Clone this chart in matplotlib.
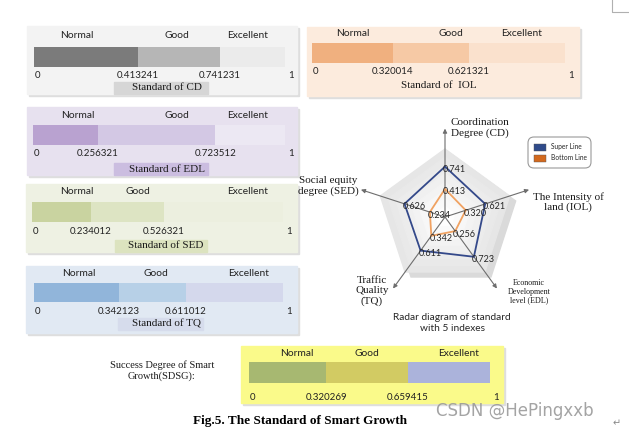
import numpy as np
import matplotlib
matplotlib.use('Agg')
import matplotlib.pyplot as plt
from matplotlib.patches import Rectangle, Polygon, FancyBboxPatch

SANS = ['Lato', 'DejaVu Sans']
SERIF = ['Liberation Serif', 'DejaVu Serif']

# ---- data ------------------------------------------------------------------
grades = ['Normal', 'Good', 'Excellent']
cd_cuts = [0.413241, 0.741231]
iol_cuts = [0.320014, 0.621321]
edl_cuts = [0.256321, 0.723512]
sed_cuts = [0.234012, 0.526321]
tq_cuts = [0.342123, 0.611012]
sdsg_cuts = [0.320269, 0.659415]

radar_axes = ['Coordination\nDegree (CD)', 'The Intensity of\nland (IOL)',
              'Economic\nDevelopment\nlevel (EDL)', 'Traffic\nQuality\n(TQ)',
              'Social equity\ndegree (SED)']
super_line = [0.741, 0.621, 0.723, 0.611, 0.626]
bottom_line = [0.413, 0.320, 0.256, 0.342, 0.234]

# ---- layout (pixel coordinates) -------------------------------------------
panels = [
    dict(cuts=cd_cuts, title='Standard of CD', box=(27, 26, 297, 94),
         bar=(34, 285, 47, 67), cat_y=36, tick_y=75, title_y=88, one_dy=0,
         cat_pos=[0.17, 0.57, 0.85], tbox=(114, 82, 208, 94), title_dx=8,
         bg='#f3f3f3', segs=['#7b7b7b', '#b6b6b6', '#ebebeb'], tcol='#d6d6d6'),
    dict(cuts=iol_cuts, title='Standard of  IOL', box=(307, 27, 579, 96),
         bar=(312, 565, 43, 63), cat_y=34, tick_y=72, title_y=85, one_dy=4,
         cat_pos=[0.16, 0.55, 0.83], tbox=None, title_dx=0,
         bg='#fcebdd', segs=['#f0b07f', '#f6c9a5', '#fae1cd'], tcol=None),
    dict(cuts=edl_cuts, title='Standard of EDL', box=(27, 107, 297, 175),
         bar=(33, 285, 125, 145), cat_y=115, tick_y=154, title_y=169, one_dy=0,
         cat_pos=[0.18, 0.57, 0.85], tbox=(114, 163, 208, 175), title_dx=8,
         bg='#e7e1ef', segs=['#b9a2d0', '#d3c8e4', '#ece8f3'], tcol='#cbbde0'),
    dict(cuts=sed_cuts, title='Standard of SED', box=(26, 184, 297, 252),
         bar=(32, 283, 202, 222), cat_y=192, tick_y=232, title_y=246, one_dy=0,
         cat_pos=[0.18, 0.42, 0.86], tbox=(115, 240, 207, 252), title_dx=8,
         bg='#eef1e3', segs=['#c9d3a0', '#dde4c3', '#ecefdf'], tcol='#dce3bf'),
    dict(cuts=tq_cuts, title='Standard of TQ', box=(26, 266, 297, 333),
         bar=(34, 283, 283, 302), cat_y=274, tick_y=311, title_y=324, one_dy=0,
         cat_pos=[0.18, 0.49, 0.86], tbox=(118, 318, 203, 330), title_dx=8,
         bg='#e1e9f3', segs=['#91b5da', '#b7d0e7', '#d4d8ec'], tcol='#d6dcec'),
    dict(cuts=sdsg_cuts, title=None, box=(241, 346, 503, 403),
         bar=(249, 490, 362, 383), cat_y=354, tick_y=398, title_y=None, one_dy=0,
         cat_pos=[0.20, 0.49, 0.87], tbox=None, title_dx=0,
         bg='#fafa8a', segs=['#a7b871', '#d2cb63', '#abb3db'], tcol=None),
]

fig = plt.figure(figsize=(6.29, 4.30), dpi=100)
ax = fig.add_axes([0, 0, 1, 1])
ax.set_xlim(0, 629)
ax.set_ylim(430, 0)
ax.axis('off')


def draw_panel(p):
    x0, y0, x1, y1 = p['box']
    ax.add_patch(Rectangle((x0 + 1.5, y0 + 1.5), x1 - x0, y1 - y0,
                           color='#dedede', zorder=1))
    ax.add_patch(Rectangle((x0, y0), x1 - x0, y1 - y0, color=p['bg'], zorder=2))
    bx0, bx1, by0, by1 = p['bar']
    edges = [0.0] + list(p['cuts']) + [1.0]
    lefts = [bx0 + e * (bx1 - bx0) for e in edges[:-1]]
    widths = [(edges[i + 1] - edges[i]) * (bx1 - bx0) for i in range(3)]
    ax.barh([(by0 + by1) / 2] * 3, widths, left=lefts, height=by1 - by0,
            color=p['segs'], zorder=3)
    for g, f in zip(grades, p['cat_pos']):
        ax.text(bx0 + f * (bx1 - bx0), p['cat_y'], g, family=SANS, fontsize=7.4,
                color='#222222', ha='center', va='center', zorder=4)
    ax.text(bx0 + 1, p['tick_y'], '0', family=SANS, fontsize=7,
            color='#222222', ha='left', va='center', zorder=4)
    ax.text(bx1 + 3, p['tick_y'] + p['one_dy'], '1', family=SANS, fontsize=7,
            color='#222222', ha='left', va='center', zorder=4)
    for c in p['cuts']:
        ax.text(bx0 + c * (bx1 - bx0), p['tick_y'], f'{c:.6f}', family=SANS,
                fontsize=7, color='#222222', ha='center', va='center', zorder=4)
    if p['tbox'] is not None:
        tx0, ty0, tx1, ty1 = p['tbox']
        ax.add_patch(Rectangle((tx0, ty0), tx1 - tx0, ty1 - ty0,
                               color=p['tcol'], zorder=3))
    if p['title']:
        ax.text((bx0 + bx1) / 2 + p['title_dx'], p['title_y'], p['title'],
                family=SERIF, fontsize=8, color='#1a1a1a', ha='center',
                va='center', zorder=4)


for p in panels:
    draw_panel(p)

# ---- radar -----------------------------------------------------------------
cx, cy, R = 445, 217, 68
angles = np.deg2rad([90, 18, -54, -126, 162])


def pent(vals, scale=R, dx=0, dy=0):
    v = np.asarray(vals, dtype=float)
    return np.column_stack([cx + dx + scale * v * np.cos(angles),
                            cy + dy - scale * v * np.sin(angles)])


ones = np.ones(5)
ax.add_patch(Polygon(pent(ones, dx=6, dy=5), closed=True, color='#dadada', zorder=2))
for k, lvl in enumerate(np.linspace(1.0, 0.15, 8)):
    g = 0.90 + 0.095 * k / 7
    ax.add_patch(Polygon(pent(ones * lvl), closed=True,
                         color=(g, g, g), zorder=2))

for a in angles:
    ax.annotate('', xy=(cx + 1.3 * R * np.cos(a), cy - 1.3 * R * np.sin(a)),
                xytext=(cx, cy),
                arrowprops=dict(arrowstyle='-|>', color='#6e6e6e', lw=0.8,
                                mutation_scale=6, shrinkA=0, shrinkB=0),
                zorder=3)

sp = pent(super_line)
bp = pent(bottom_line)
ax.add_patch(Polygon(sp, closed=True, fill=False, ec='#34498a', lw=1.3, zorder=4))
ax.add_patch(Polygon(bp, closed=True, fill=False, ec='#f0a262', lw=1.3, zorder=4))
for pts, vals in ((sp, super_line), (bp, bottom_line)):
    for (x, y), v in zip(pts, vals):
        ax.text(x - 2, y + 3, f'{v:.3f}', family=SANS, fontsize=6.5,
                color='#262626', ha='left', va='center', zorder=5)

lab_pos = [(480, 128, 8), (568, 202, 8), (529, 292, 5.8), (372, 291, 8),
           (328, 186, 8)]
for txt, (x, y, fs) in zip(radar_axes, lab_pos):
    ax.text(x, y, txt, family=SERIF, fontsize=fs, color='#1a1a1a', ha='center',
            va='center', linespacing=1.1, multialignment='center')

ax.text(452, 323, 'Radar diagram of standard\nwith 5 indexes', family=SANS,
        fontsize=7.3, color='#262626', ha='center', va='center', linespacing=1.15)

# legend
ax.add_patch(FancyBboxPatch((528, 137), 63, 31, boxstyle='round,pad=0,rounding_size=6',
                            fc='white', ec='#9a9a9a', lw=0.8, zorder=5))
for (lbl, col), yy in zip([('Super Line', '#2f4b8a'), ('Bottom Line', '#d2691e')],
                          [147, 158]):
    ax.add_patch(Rectangle((534, yy - 3.5), 12, 7, fc=col, ec='#555555',
                           lw=0.3, zorder=6))
    ax.text(551, yy, lbl, family=SANS, fontsize=4.8, color='#262626',
            ha='left', va='center', zorder=6)

# ---- captions ----------------------------------------------------------------
ax.text(162, 371, 'Success Degree of Smart\nGrowth(SDSG):', family=SERIF,
        fontsize=7.5, color='#1a1a1a', ha='center', va='center', linespacing=1.15)
ax.text(300, 421, 'Fig.5. The Standard of Smart Growth', family=SERIF,
        fontsize=9.5, fontweight='bold', color='black', ha='center', va='center')
ax.text(515, 411, 'CSDN @HePingxxb', family=['DejaVu Sans'], fontsize=12,
        color='#9a9a9a', alpha=0.9, ha='center', va='center', zorder=7)
ax.text(617, 423, '\u21b5', family=['DejaVu Sans'], fontsize=7, color='#888888',
        ha='center', va='center')
ax.plot([612, 612, 629], [0, 12, 12], color='#b0b0b0', lw=0.8)

fig.savefig('out.png', dpi=100)
